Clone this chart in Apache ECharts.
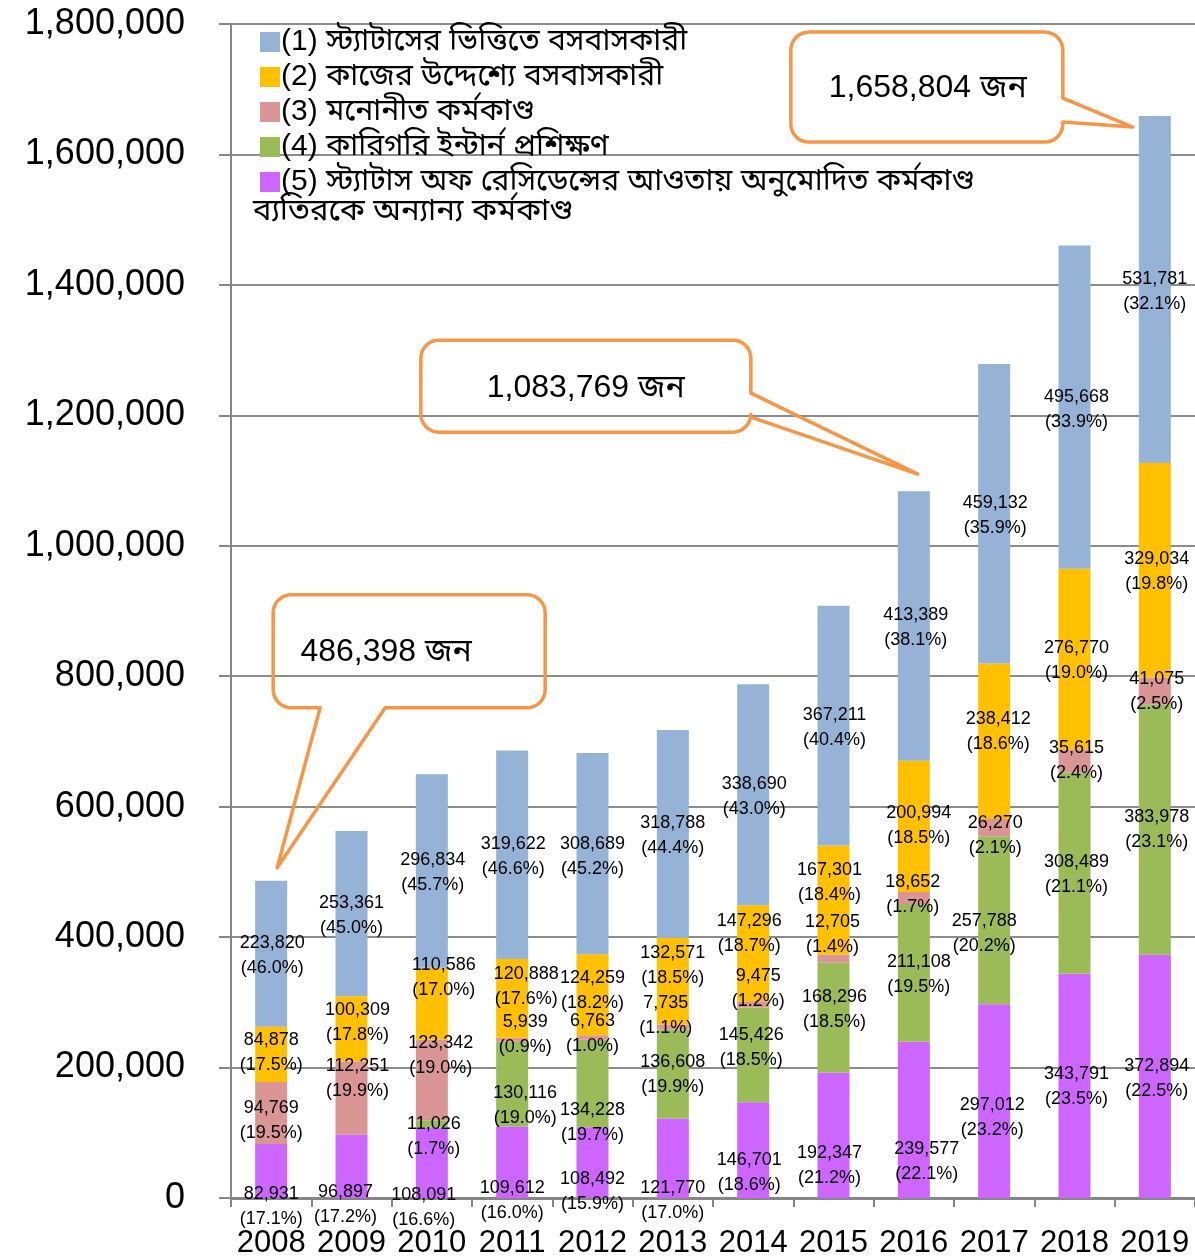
<!DOCTYPE html>
<html>
<head>
<meta charset="utf-8">
<script src="https://cdn.jsdelivr.net/npm/echarts@6/dist/echarts.min.js"></script>
<style>
html,body{margin:0;padding:0;background:#ffffff;}
#chart{width:1195px;height:1259px;}
</style>
</head>
<body>
<div id="chart"></div>
<script>
// ---------------- DATA ----------------
const years = ['2008','2009','2010','2011','2012','2013','2014','2015','2016','2017','2018','2019'];

const seriesNames = [
  '(1) স্ট্যাটাসের ভিত্তিতে বসবাসকারী',
  '(2) কাজের উদ্দেশ্যে বসবাসকারী',
  '(3) মনোনীত কর্মকাণ্ড',
  '(4) কারিগরি ইন্টার্ন প্রশিক্ষণ',
  '(5) স্ট্যাটাস অফ রেসিডেন্সের আওতায় অনুমোদিত কর্মকাণ্ড ব্যতিরকে অন্যান্য কর্মকাণ্ড'
];
const legendLine5 = ['(5) স্ট্যাটাস অফ রেসিডেন্সের আওতায় অনুমোদিত কর্মকাণ্ড', 'ব্যতিরকে অন্যান্য কর্মকাণ্ড'];

const statusBased    = [223820, 253361, 296834, 319622, 308689, 318788, 338690, 367211, 413389, 459132, 495668, 531781];
const statusBasedPct = [46.0, 45.0, 45.7, 46.6, 45.2, 44.4, 43.0, 40.4, 38.1, 35.9, 33.9, 32.1];

const workBased      = [84878, 100309, 110586, 120888, 124259, 132571, 147296, 167301, 200994, 238412, 276770, 329034];
const workBasedPct   = [17.5, 17.8, 17.0, 17.6, 18.2, 18.5, 18.7, 18.4, 18.5, 18.6, 19.0, 19.8];

const designated     = [94769, 112251, 123342, 5939, 6763, 7735, 9475, 12705, 18652, 26270, 35615, 41075];
const designatedPct  = [19.5, 19.9, 19.0, 0.9, 1.0, 1.1, 1.2, 1.4, 1.7, 2.1, 2.4, 2.5];

const internTraining    = [null, null, 11026, 130116, 134228, 136608, 145426, 168296, 211108, 257788, 308489, 383978];
const internTrainingPct = [null, null, 1.7, 19.0, 19.7, 19.9, 18.5, 18.5, 19.5, 20.2, 21.1, 23.1];

const otherActivities    = [82931, 96897, 108091, 109612, 108492, 121770, 146701, 192347, 239577, 297012, 343791, 372894];
const otherActivitiesPct = [17.1, 17.2, 16.6, 16.0, 15.9, 17.0, 18.6, 21.2, 22.1, 23.2, 23.5, 22.5];

const yTicks = [0, 200000, 400000, 600000, 800000, 1000000, 1200000, 1400000, 1600000, 1800000];

const calloutYears = ['2008', '2016', '2019'];
const calloutTexts = ['486,398 জন', '1,083,769 জন', '1,658,804 জন'];

// ---------------- STYLE ----------------
const FONT = '"Liberation Sans", "Noto Sans Bengali", "Lohit Bengali", "Noto Sans", sans-serif';
const colors = {
  status: '#95B3D7', work: '#FFC000', designated: '#D99694', intern: '#9BBB59', other: '#CC66FF'
};
// manual label nudges (px) like the hand-adjusted labels of the original
const labelNudge = {
  other:      [[0,36],[-6,38],[-8,45],[0,38],[0,29],[0,42],[-4,22],[-4,30],[13,42],[-2,16],[2,1],[2,2]],
  intern:     [null,null,[2,13],[13,21],[0,39],[0,1],[-2,-7],[1,-8],[5,2],[-10,13],[2,1],[2,0]],
  designated: [[0,8],[6,-20],[9,-25],[13,-5],[0,-4],[-7,-11],[5,-16],[-1,-24],[-1,-3],[1,8],[2,0],[2,1]],
  work:       [[0,-2],[6,-6],[12,-26],[14,-12],[0,-4],[0,-16],[-4,-20],[-4,-17],[5,-1],[4,-10],[2,1],[2,1]],
  status:     [[1,2],[0,2],[1,2],[1,2],[0,3],[0,2],[1,2],[1,2],[2,2],[1,2],[2,2],[0,2]]
};

function fmt(n) { return n.toLocaleString('en-US'); }

function makeSeries(name, values, pcts, nudges, color) {
  return {
    name: name,
    type: 'bar',
    stack: 'total',
    barWidth: 32,
    itemStyle: { color: color },
    emphasis: { disabled: true },
    label: {
      show: true,
      position: 'inside',
      color: '#000',
      fontFamily: FONT,
      fontSize: 18,
      lineHeight: 25,
      formatter: function (p) {
        const v = values[p.dataIndex];
        const pc = pcts[p.dataIndex];
        return fmt(v) + '\n(' + pc.toFixed(1) + '%)';
      }
    },
    data: values.map(function (v, i) {
      if (v == null) return null;
      return { value: v, label: { offset: nudges[i] || [0, 0] } };
    })
  };
}

const series = [
  makeSeries(seriesNames[4], otherActivities, otherActivitiesPct, labelNudge.other, colors.other),
  makeSeries(seriesNames[3], internTraining, internTrainingPct, labelNudge.intern, colors.intern),
  makeSeries(seriesNames[2], designated, designatedPct, labelNudge.designated, colors.designated),
  makeSeries(seriesNames[1], workBased, workBasedPct, labelNudge.work, colors.work),
  makeSeries(seriesNames[0], statusBased, statusBasedPct, labelNudge.status, colors.status)
];

const chart = echarts.init(document.getElementById('chart'), null, { renderer: 'canvas' });

const option = {
  animation: false,
  backgroundColor: '#ffffff',
  textStyle: { fontFamily: FONT },
  grid: { left: 231, right: -2, top: 24, bottom: 61, containLabel: false },
  legend: {
    data: seriesNames.slice(),
    orient: 'vertical',
    left: 255,
    top: 22,
    itemWidth: 20,
    itemHeight: 20,
    itemGap: 5,
    icon: 'rect',
    selectedMode: false,
    textStyle: { fontFamily: FONT, fontSize: 30, color: '#000', lineHeight: 30, padding: [0, 0, 0, -4] },
    formatter: function (name) {
      return name === seriesNames[4] ? legendLine5[0] : name;
    }
  },
  xAxis: {
    type: 'category',
    data: years,
    axisLine: { show: true, lineStyle: { color: '#868686', width: 3 } },
    axisTick: { show: true, length: 9, lineStyle: { color: '#868686', width: 2 } },
    axisLabel: { color: '#000', fontFamily: FONT, fontSize: 31, margin: 30, interval: 0, hideOverlap: false }
  },
  yAxis: {
    type: 'value',
    min: yTicks[0],
    max: yTicks[yTicks.length - 1],
    interval: yTicks[1] - yTicks[0],
    axisLine: { show: true, lineStyle: { color: '#868686', width: 2 } },
    axisTick: { show: true, length: 12, lineStyle: { color: '#868686', width: 2 } },
    splitLine: { show: true, lineStyle: { color: '#8c8c8c', width: 2 } },
    axisLabel: { color: '#000', fontFamily: FONT, fontSize: 36, margin: 46, formatter: function (v) { return fmt(v); } }
  },
  series: series
};

chart.setOption(option);

// ---------------- CALLOUTS ----------------
function totalFor(i) {
  return [statusBased, workBased, designated, internTraining, otherActivities]
    .reduce(function (s, arr) { return s + (arr[i] || 0); }, 0);
}

function roundedCallout(x0, y0, x1, y1, r, tail) {
  const pts = [];
  function arc(cx, cy, a0, a1) {
    const n = 8;
    for (let k = 0; k <= n; k++) {
      const a = (a0 + (a1 - a0) * k / n) * Math.PI / 180;
      pts.push([cx + r * Math.cos(a), cy + r * Math.sin(a)]);
    }
  }
  arc(x0 + r, y0 + r, 180, 270);
  arc(x1 - r, y0 + r, 270, 360);
  if (tail.side === 'right') {
    pts.push([x1, tail.b1]); pts.push(tail.tip); pts.push([x1, tail.b2]);
  }
  arc(x1 - r, y1 - r, 0, 90);
  if (tail.side === 'bottom') {
    pts.push([tail.b2, y1]); pts.push(tail.tip); pts.push([tail.b1, y1]);
  }
  arc(x0 + r, y1 - r, 90, 180);
  return pts;
}

// box geometry relative to the tip (layout styling)
const calloutLayout = [
  { tipDx: 6, tipDy: -13, box: [-4, -273, 268, -160], side: 'bottom', base: [43, 108], text: [109, -216], align: 'center' },
  { tipDx: 4, tipDy: -17, box: [-497, -134, -167, -42], side: 'right', base: [-81, -57], text: [-332, -86], align: 'center' },
  { tipDx: -22, tipDy: 11, box: [-342, -95, -70, 15], side: 'right', base: [-29, -5], text: [-205, -39], align: 'center' }
];

const elements = [];
calloutYears.forEach(function (yr, k) {
  const idx = years.indexOf(yr);
  const top = chart.convertToPixel({ gridIndex: 0 }, [idx, totalFor(idx)]);
  const L = calloutLayout[k];
  const tx = top[0] + L.tipDx, ty = top[1] + L.tipDy;
  const x0 = tx + L.box[0], y0 = ty + L.box[1], x1 = tx + L.box[2], y1 = ty + L.box[3];
  let tail;
  if (L.side === 'bottom') tail = { side: 'bottom', b1: tx + L.base[0], b2: tx + L.base[1], tip: [tx, ty] };
  else tail = { side: 'right', b1: ty + L.base[0], b2: ty + L.base[1], tip: [tx, ty] };
  elements.push({
    type: 'polygon',
    z: 100,
    shape: { points: roundedCallout(x0, y0, x1, y1, 18, tail) },
    style: { fill: 'transparent', stroke: '#F79646', lineWidth: 3.5, lineJoin: 'round' },
    silent: true
  });
  elements.push({
    type: 'text',
    z: 101,
    x: tx + L.text[0],
    y: ty + L.text[1],
    style: { text: calloutTexts[k], fontFamily: FONT, fontSize: 32, fill: '#000', align: L.align, verticalAlign: 'middle' },
    silent: true
  });
});

// second line of the 5th legend entry
elements.push({
  type: 'text',
  z: 101,
  left: 253,
  top: 196,
  style: { text: legendLine5[1], fontFamily: FONT, fontSize: 31, fill: '#000' },
  silent: true
});

chart.setOption({ graphic: { elements: elements } });
</script>
</body>
</html>
